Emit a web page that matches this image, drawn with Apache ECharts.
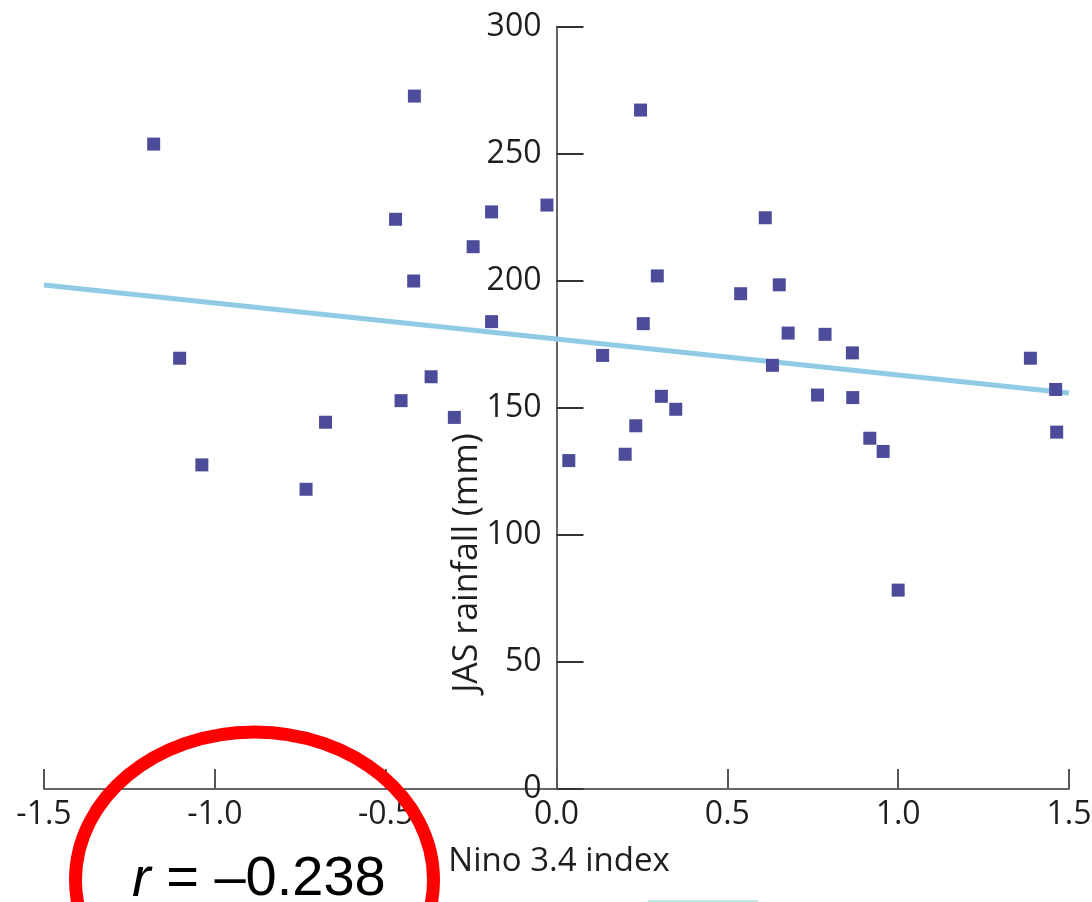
<!DOCTYPE html>
<html>
<head>
<meta charset="utf-8">
<script src="https://cdn.jsdelivr.net/npm/echarts@6/dist/echarts.min.js"></script>
<style>
html,body{margin:0;padding:0;background:#fff;}
#chart{width:1092px;height:902px;}
</style>
</head>
<body>
<div id="chart"></div>
<script>
// Nino 3.4 index (x) vs JAS rainfall in mm (y)
var ninoIndex = [-1.179, -1.103, -1.038, -0.733, -0.676, -0.471, -0.455, -0.416, -0.418, -0.367,
                 -0.299, -0.244, -0.190, -0.190, -0.028, 0.036, 0.135, 0.201, 0.232, 0.246,
                 0.254, 0.295, 0.307, 0.349, 0.539, 0.611, 0.632, 0.652, 0.678, 0.764,
                 0.786, 0.866, 0.867, 0.917, 0.956, 1.000, 1.387, 1.461, 1.464];
var rainfall  = [253.9, 169.6, 127.6, 118.0, 144.4, 224.3, 152.9, 272.8, 200.0, 162.3,
                 146.3, 213.5, 227.2, 184.0, 229.9, 129.3, 170.7, 131.8, 143.0, 267.3,
                 183.2, 202.0, 154.6, 149.5, 195.0, 224.9, 166.8, 198.5, 179.5, 155.1,
                 179.0, 171.7, 154.1, 138.1, 132.9, 78.3, 169.6, 157.3, 140.5];
// regression line end points
var trendX = [-1.5, 1.5];
var trendY = [198.4, 155.9];
var xTicks = ['-1.5', '-1.0', '-0.5', '0.0', '0.5', '1.0', '1.5'];
var yTicks = ['0', '50', '100', '150', '200', '250', '300'];
var xTitle = 'Nino 3.4 index';
var yTitle = 'JAS rainfall (mm)';
var rLabel = 'r';
var rValue = ' = \u20130.238';

var points = ninoIndex.map(function (x, i) { return [x, rainfall[i]]; });
var trend = trendX.map(function (x, i) { return [x, trendY[i]]; });

var gridLeft = 44, gridRight = 23;
var plotW = 1092 - gridLeft - gridRight;
// shift the y axis so it sits at x = 0 of the value range [-1.5, 1.5]
var yAxisOffset = -plotW * (0 - (-1.5)) / 3;

var chart = echarts.init(document.getElementById('chart'), null, {renderer: 'canvas'});
var axisFont = '"Open Sans", sans-serif';
chart.setOption({
  animation: false,
  backgroundColor: '#ffffff',
  grid: {left: gridLeft, right: gridRight, top: 27, bottom: 113, containLabel: false, outerBoundsMode: 'none'},
  xAxis: {
    type: 'value', min: -1.5, max: 1.5, interval: 0.5,
    splitLine: {show: false},
    axisLine: {onZero: false, lineStyle: {color: '#666', width: 2}},
    axisTick: {inside: true, length: 20, lineStyle: {color: '#555', width: 2}},
    axisLabel: {
      margin: 10, fontSize: 32, fontFamily: axisFont, color: '#1e1e1e',
      formatter: function (v) { return xTicks[Math.round((v + 1.5) / 0.5)]; }
    }
  },
  yAxis: {
    type: 'value', min: 0, max: 300, interval: 50,
    position: 'left', offset: yAxisOffset,
    splitLine: {show: false},
    axisLine: {onZero: false, lineStyle: {color: '#666', width: 2}},
    axisTick: {inside: true, length: 27, lineStyle: {color: '#333', width: 2}},
    axisLabel: {
      margin: 15, fontSize: 32, fontFamily: axisFont, color: '#1e1e1e',
      formatter: function (v) { return yTicks[Math.round(v / 50)]; }
    }
  },
  series: [
    {
      type: 'line', data: trend, symbol: 'none', z: 2,
      lineStyle: {color: '#8fcbe4', width: 5}
    },
    {
      type: 'scatter', data: points, symbol: 'rect', symbolSize: 13, z: 3,
      itemStyle: {color: '#4c4c9a', opacity: 1}
    }
  ],
  graphic: [
    {
      type: 'text', x: 467, y: 563, rotation: Math.PI / 2, z: 10,
      style: {text: yTitle, font: '34px "Open Sans", sans-serif', fill: '#1e1e1e',
              textAlign: 'center', textVerticalAlign: 'middle'}
    },
    {
      type: 'text', x: 559, y: 862, z: 10,
      style: {text: xTitle, font: '33px "Open Sans", sans-serif', fill: '#1e1e1e',
              textAlign: 'center', textVerticalAlign: 'middle'}
    },
    {
      type: 'ellipse', z: 20,
      shape: {cx: 254.5, cy: 880, rx: 179, ry: 148},
      style: {fill: 'none', stroke: '#ff0000', lineWidth: 13}
    },
    {
      type: 'text', x: 132, y: 880, z: 21,
      style: {
        text: '{i|' + rLabel + '}{n|' + rValue + '}',
        textVerticalAlign: 'middle',
        rich: {
          i: {fontFamily: '"Liberation Sans", Arial, sans-serif', fontSize: 56, fontStyle: 'italic', fill: '#000'},
          n: {fontFamily: '"Liberation Sans", Arial, sans-serif', fontSize: 56, fill: '#000'}
        }
      }
    },
    {
      type: 'rect', z: 5,
      shape: {x: 648, y: 900, width: 110, height: 2},
      style: {fill: '#bdeae4'}
    }
  ]
});
</script>
</body>
</html>
